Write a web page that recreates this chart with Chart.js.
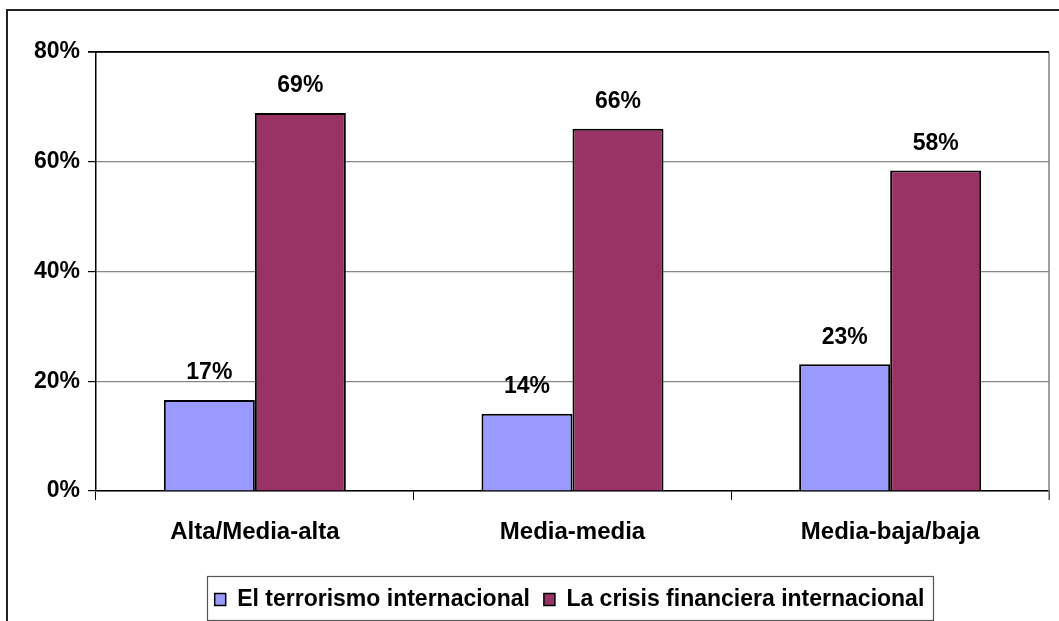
<!DOCTYPE html>
<html>
<head>
<meta charset="utf-8">
<script src="https://cdn.jsdelivr.net/npm/chart.js@4"></script>
<style>
  html, body { margin: 0; padding: 0; background: #fff; }
  #wrap { width: 1059px; height: 621px; position: relative; }
</style>
</head>
<body>
<div id="wrap"><canvas id="myChart" width="1059" height="621"></canvas></div>
<script>
var categories = ["Alta/Media-alta", "Media-media", "Media-baja/baja"];
var terrorismo = [16.6, 14.1, 23.1];
var crisis = [68.9, 66.0, 58.4];
var seriesNames = ["El terrorismo internacional", "La crisis financiera internacional"];
var yTicks = [0, 20, 40, 60, 80];

var canvas = document.getElementById("myChart");
var fontFamily = "'Liberation Sans', Arial, sans-serif";

// marco exterior, borde derecho del area y caja de la leyenda
var framePlugin = {
  id: "frame",
  afterLayout: function (chart) {
    // la leyenda del original esta algo desplazada a la derecha
    chart.legend.left += 45;
    chart.legend.right += 45;
  },
  beforeDraw: function (chart) {
    var ctx = chart.ctx;
    ctx.save();
    ctx.fillStyle = "#fff";
    ctx.fillRect(0, 0, chart.width, chart.height);
    ctx.strokeStyle = "#222";
    ctx.lineWidth = 2;
    ctx.strokeRect(7, 10, chart.width + 20, chart.height + 20);
    ctx.restore();
  },
  afterDraw: function (chart) {
    var ctx = chart.ctx;
    var a = chart.chartArea;
    ctx.save();
    ctx.strokeStyle = "#808080";
    ctx.lineWidth = 1.5;
    ctx.beginPath();
    ctx.moveTo(a.right, a.top);
    ctx.lineTo(a.right, a.bottom + 9);
    ctx.stroke();
    ctx.strokeStyle = "#000";
    ctx.lineWidth = 1.5;
    ctx.beginPath();
    ctx.moveTo(a.left - 8, a.top);
    ctx.lineTo(a.right, a.top);
    ctx.stroke();

    var boxes = chart.legend.legendHitBoxes;
    if (boxes && boxes.length) {
      var minX = Infinity, maxX = -Infinity;
      boxes.forEach(function (b) {
        minX = Math.min(minX, b.left);
        maxX = Math.max(maxX, b.left + b.width);
      });
      ctx.strokeStyle = "#555";
      ctx.lineWidth = 1.2;
      ctx.strokeRect(Math.round(minX - 8) + 0.5, 576.5, Math.round(maxX - minX + 16), 44);
    }
    ctx.restore();
  }
};

// etiquetas de valores sobre las barras
var labelPlugin = {
  id: "valueLabels",
  afterDatasetsDraw: function (chart) {
    var ctx = chart.ctx;
    ctx.save();
    ctx.font = "bold 23px " + fontFamily;
    ctx.fillStyle = "#000";
    ctx.textAlign = "center";
    ctx.textBaseline = "middle";
    chart.data.datasets.forEach(function (ds, i) {
      var meta = chart.getDatasetMeta(i);
      meta.data.forEach(function (bar, j) {
        ctx.fillText(Math.round(ds.data[j]) + "%", bar.x, bar.y - 27);
      });
    });
    ctx.restore();
  }
};

var data = {
  labels: categories,
  datasets: [
    {
      label: seriesNames[0],
      data: terrorismo,
      backgroundColor: "#9999FF",
      borderColor: "#000",
      borderWidth: 2,
      categoryPercentage: 0.573,
      barPercentage: 1,
    },
    {
      label: seriesNames[1],
      data: crisis,
      backgroundColor: "#993366",
      borderColor: "#000",
      borderWidth: 2,
      categoryPercentage: 0.573,
      barPercentage: 1,
    },
  ],
};

var myChart = new Chart(canvas, {
  type: "bar",
  data: data,
  plugins: [framePlugin, labelPlugin],
  options: {
    responsive: false,
    animation: false,
    layout: { padding: { left: 0, top: 52, right: 10, bottom: 0 } },
    plugins: {
      tooltip: { enabled: false },
      legend: {
        position: "bottom",
        labels: {
          color: "#000",
          font: { family: fontFamily, size: 23, weight: "bold" },
          boxWidth: 11,
          boxHeight: 12,
          padding: 14,
          generateLabels: function (chart) {
            return chart.data.datasets.map(function (ds, i) {
              return {
                text: ds.label,
                fillStyle: ds.backgroundColor,
                strokeStyle: "#000",
                lineWidth: 1.5,
                datasetIndex: i,
              };
            });
          },
        },
      },
    },
    scales: {
      x: {
        grid: {
          offset: true,
          drawOnChartArea: false,
          tickLength: 9,
          tickColor: "#000",
        },
        border: { color: "#000", width: 1.5 },
        ticks: {
          color: "#000",
          padding: 18,
          font: { family: fontFamily, size: 24, weight: "bold" },
        },
        afterFit: function (scale) { scale.height = 83; },
      },
      y: {
        min: 0,
        max: 80,
        afterBuildTicks: function (scale) {
          scale.ticks = yTicks.map(function (v) { return { value: v }; });
        },
        grid: {
          color: function (c) { return c.tick && c.tick.value === 80 ? "#000" : "#868686"; },
          lineWidth: 1.2,
          tickLength: 8,
          tickColor: "#000",
        },
        border: { color: "#000", width: 1.5 },
        ticks: {
          color: "#000",
          padding: 8,
          font: { family: fontFamily, size: 23, weight: "bold" },
          callback: function (v) { return v + "%"; },
        },
        afterFit: function (scale) { scale.width = 96; },
      },
    },
  },
});
</script>
</body>
</html>
